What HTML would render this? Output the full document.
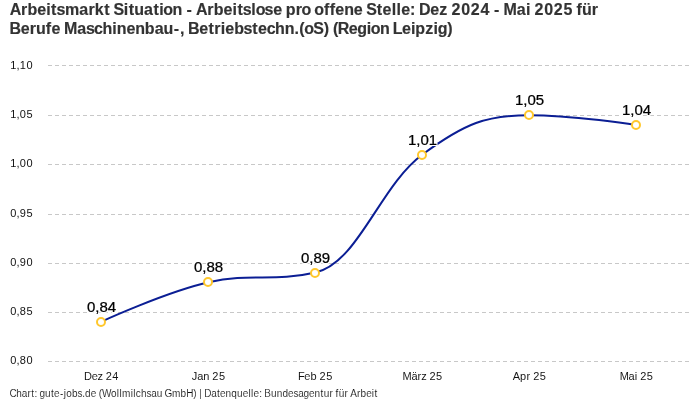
<!DOCTYPE html>
<html lang="de">
<head>
<meta charset="utf-8">
<title>Arbeitsmarkt Situation</title>
<style>
html,body{margin:0;padding:0;background:#fff;}
body{width:700px;height:400px;overflow:hidden;font-family:"Liberation Sans",sans-serif;}
svg{display:block;font-family:"Liberation Sans",sans-serif;}
.title{font-weight:700;font-size:16px;fill:#333333;}
.ylab{font-size:11px;fill:#111111;}
.xlab{font-size:11px;fill:#111111;}
.dlab{font-size:14px;fill:#000000;font-weight:400;filter:url(#halo);}
.foot{font-size:10px;fill:#111111;}
.grid line{stroke:#c8c8c8;stroke-width:1;stroke-dasharray:4 3;shape-rendering:crispEdges;}
.curve{fill:none;stroke:#0b1e94;stroke-width:2;stroke-linecap:butt;}
.mk circle{fill:#fff;stroke:#ffc72c;stroke-width:2;}
.title{stroke:#333333;stroke-width:0.158px;stroke-linejoin:round;}
.xlab{stroke:#fff;stroke-width:0.030px;stroke-linejoin:round;}
.foot{stroke:#fff;stroke-width:0.100px;stroke-linejoin:round;}
.dlab{stroke:#000000;stroke-width:0.249px;stroke-linejoin:round;}
</style>
</head>
<body>
<svg width="700" height="400" viewBox="0 0 700 400">
<rect width="700" height="400" fill="#fff"/>
<defs>
<filter id="halo" x="-10%" y="-25%" width="120%" height="150%" color-interpolation-filters="sRGB">
<feMorphology in="SourceAlpha" operator="dilate" radius="1" result="d"/>
<feFlood flood-color="#ffffff" result="f"/>
<feComposite in="f" in2="d" operator="in" result="h"/>
<feMerge><feMergeNode in="h"/><feMergeNode in="SourceGraphic"/></feMerge>
</filter>
</defs>
<text class="title" x="9.7 21.08 27.4 37.2 46.21 51.12 56.43 64.95 79.31 88.44 94.87 104.25 109.64 113.41 123.8 128.72 134.32 144.03 153.39 159.18 163.32 172.6 181.92 186.59 192.44 195.95 207.33 213.66 223.45 232.46 237.38 242.68 251.37 255.64 264.62 273.15 281.76 285.84 295.68 301.61 310.67 314.36 323.96 329.73 335.3 344.13 353.84 362.45 366.16 376.82 382.57 391.66 396.44 401.13 410.05 415.02 418.93 430.29 439.34 447.15 451.61 461.21 470.81 480.41 489.33 494 499.55 503.55 516.87 525.93 530.11 534.57 544.17 553.77 563.38 572.29 576.62 582.05 591.83" y="14.5">Arbeitsmarkt Situation - Arbeitslose pro offene Stelle: Dez 2024 - Mai 2025 für</text>
<text class="title" x="9.56 20.72 29.78 36.01 45.86 51.42 60.03 64.03 77.34 85.93 94.1 102.57 112.29 116.68 126.38 135.21 144.84 154.69 163.57 173.78 179.93 184.3 187.97 199.13 208.48 214.33 220.73 225.29 234.21 243.48 252.27 258.01 266.64 275.11 284.65 294.55 299.3 304.3 313.35 323.72 328.75 332.9 337.77 348.86 357.34 366.7 370.84 380.12 389.44 392.82 401.91 410.93 415.35 425.19 433.39 437.64 447.2" y="33.7">Berufe Maschinenbau-, Betriebstechn.(oS) (Region Leipzig)</text>
<g class="grid">
<line x1="48" x2="689" y1="65.5" y2="65.5"/>
<line x1="48" x2="689" y1="115.5" y2="115.5"/>
<line x1="48" x2="689" y1="164.5" y2="164.5"/>
<line x1="48" x2="689" y1="214.5" y2="214.5"/>
<line x1="48" x2="689" y1="263.5" y2="263.5"/>
<line x1="48" x2="689" y1="312.5" y2="312.5"/>
<line x1="48" x2="689" y1="361.5" y2="361.5"/>
</g>
<g>
<text class="ylab" x="10.24 16.55 19.83 26.42" y="69.00">1,10</text>
<text class="ylab" x="10.24 16.55 19.83 26.42" y="118.00">1,05</text>
<text class="ylab" x="10.24 16.55 19.83 26.42" y="167.00">1,00</text>
<text class="ylab" x="10.24 16.55 19.83 26.42" y="217.00">0,95</text>
<text class="ylab" x="10.24 16.55 19.83 26.42" y="266.00">0,90</text>
<text class="ylab" x="10.24 16.55 19.83 26.42" y="315.00">0,85</text>
<text class="ylab" x="10.24 16.55 19.83 26.42" y="364.00">0,80</text>
</g>
<g>
<text class="xlab" x="84.09 91.68 97.53 102.6 105.66 112.27" y="380">Dez 24</text>
<text class="xlab" x="191.8 197.22 203.27 209.23 212.29 218.9" y="380">Jan 25</text>
<text class="xlab" x="298.02 304.28 310.48 316.51 319.57 326.18" y="380">Feb 25</text>
<text class="xlab" x="402.51 411.43 417.6 421.26 426.34 429.41 436" y="380">März 25</text>
<text class="xlab" x="512.73 520.04 526.48 530.09 533.17 539.76" y="380">Apr 25</text>
<text class="xlab" x="619.7 628.62 634.77 637.14 640.2 646.8" y="380">Mai 25</text>
</g>
<path class="curve" d="M101.50 321.67 C101.50 321.67 165.70 292.17 208.50 282.33 C251.30 272.50 272.70 282.33 315.50 272.50 C358.30 262.67 379.70 185.97 422.50 154.50 C465.30 123.03 486.70 115.17 529.50 115.17 C572.30 115.17 636.50 125.00 636.50 125.00"/>
<g class="mk">
<circle cx="101" cy="322" r="4"/>
<circle cx="208" cy="282" r="4"/>
<circle cx="315" cy="273" r="4"/>
<circle cx="422" cy="155" r="4"/>
<circle cx="529" cy="115" r="4"/>
<circle cx="636" cy="125" r="4"/>
</g>
<g>
<text class="dlab" transform="scale(1.0727 1)" x="81.11 88.84 92.69 100.52" y="312.20">0,84</text>
<text class="dlab" transform="scale(1.0727 1)" x="180.86 188.59 192.44 200.27" y="272.20">0,88</text>
<text class="dlab" transform="scale(1.0727 1)" x="280.6 288.34 292.19 300.02" y="263.20">0,89</text>
<text class="dlab" transform="scale(1.0727 1)" x="380.35 388.09 391.94 399.77" y="145.20">1,01</text>
<text class="dlab" transform="scale(1.0727 1)" x="480.1 487.84 491.69 499.52" y="105.20">1,05</text>
<text class="dlab" transform="scale(1.0727 1)" x="579.85 587.58 591.44 599.27" y="115.20">1,04</text>
</g>
<text class="foot" x="9.49 16.26 21.77 27.41 31.3 34.52 37.15 39.56 45.02 50.98 54.12 60.03 63.83 66.21 71.91 77.5 82.28 85.05 90.7 96.02 98.68 101.88 110.91 116.71 119.41 122.08 130.75 133.36 135.84 140.92 146.48 151.3 156.81 162.23 164.38 171.94 180.59 186.19 193.35 196.48 199.32 201.98 204.3 211.16 216.96 220.05 225.62 231.36 237.1 242.69 248.44 251.12 253.58 259.17 261.8 264.3 270.96 276.64 282.38 288.02 293.48 298.31 303.59 308.95 314.54 320.52 323.72 329.52 332.8 335.6 338.67 344.47 348.03 350.2 356.9 360.53 366.17 371.82 374.56" y="396.7">Chart: gute-jobs.de (Wollmilchsau GmbH) | Datenquelle: Bundesagentur für Arbeit</text>
</svg>
</body>
</html>
